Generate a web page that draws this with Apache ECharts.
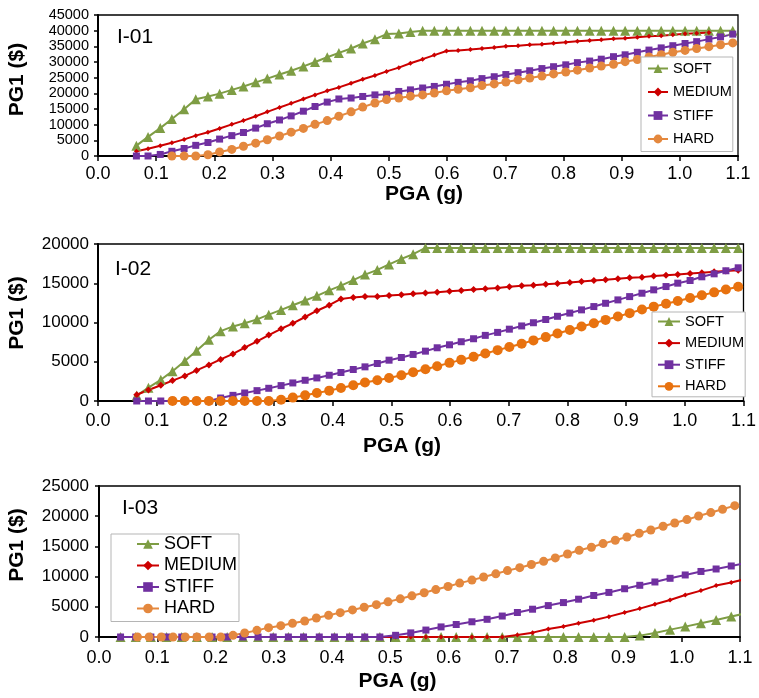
<!DOCTYPE html>
<html>
<head>
<meta charset="utf-8">
<title>PG1 vs PGA</title>
<style>
  html, body { margin: 0; padding: 0; background: #fff; }
  #chart { width: 759px; height: 698px; }
</style>
<script src="https://cdn.jsdelivr.net/npm/echarts@6/dist/echarts.min.js"></script>
</head>
<body>
<div id="chart"></div>
<script>
// PGA (g) sampling used by most curves
const pga = [
  0.066, 0.086, 0.107, 0.127, 0.148, 0.168, 0.189, 0.209, 0.230, 0.250,
  0.271, 0.291, 0.312, 0.332, 0.353, 0.373, 0.394, 0.414, 0.435, 0.455,
  0.476, 0.496, 0.517, 0.537, 0.558, 0.578, 0.599, 0.619, 0.640, 0.660,
  0.681, 0.701, 0.722, 0.742, 0.763, 0.783, 0.804, 0.824, 0.845, 0.865,
  0.886, 0.906, 0.927, 0.947, 0.968, 0.988, 1.009, 1.029, 1.050, 1.070,
  1.091
];
// I-03 soft / medium / stiff use a coarser PGA step
const pgaCoarse = [
  0.037, 0.063, 0.089, 0.116, 0.142, 0.168, 0.194, 0.220, 0.247, 0.273,
  0.299, 0.325, 0.351, 0.378, 0.404, 0.430, 0.456, 0.482, 0.509, 0.535,
  0.561, 0.587, 0.613, 0.640, 0.666, 0.692, 0.718, 0.744, 0.771, 0.797,
  0.823, 0.849, 0.875, 0.902, 0.928, 0.954, 0.980, 1.006, 1.033, 1.059,
  1.085, 1.111
];

const soils = ['SOFT', 'MEDIUM', 'STIFF', 'HARD'];
const panelNames = ['I-01', 'I-02', 'I-03'];
const yMax = [45000, 20000, 25000];

// PG1 ($), I-01
const i01Soft = [
  3300, 6100, 8900, 11800, 14900, 18100, 19000, 19900, 21100, 22200,
  23500, 24700, 26000, 27200, 28600, 30000, 31500, 32900, 34300, 35900,
  37300, 38900, 39100, 39600, 40000, 40000, 40000, 40000, 40000, 40000,
  40000, 40000, 40000, 40000, 40000, 40000, 40000, 40000, 40000, 40000,
  40000, 40000, 40000, 40000, 40000, 40000, 40000, 40000, 40000, 40000,
  40000
];
const i01Medium = [
  1500, 2300, 3300, 4200, 5300, 6500, 7600, 8800, 10100, 11300,
  12700, 14100, 15500, 16800, 18200, 19500, 20800, 21900, 23200, 24500,
  25700, 27000, 28200, 29600, 30900, 32200, 33500, 33700, 34000, 34300,
  34600, 35000, 35200, 35500, 35700, 36000, 36300, 36600, 36900, 37100,
  37400, 37600, 37900, 38200, 38400, 38700, 39000, 39200, 39400, null,
  null
];
const i01Stiff = [
  0, 0, 500, 1500, 2400, 3400, 4300, 5400, 6500, 7500,
  8900, 10300, 11500, 12800, 14300, 15800, 17200, 18200, 18500, 19000,
  19500, 19700, 20600, 21100, 21700, 22200, 22900, 23500, 24000, 24700,
  25300, 26000, 26600, 27200, 27900, 28500, 29100, 29800, 30300, 30900,
  31700, 32300, 33100, 33800, 34500, 35200, 35900, 36500, 37300, 38000,
  38900
];
const i01Hard = [
  null, null, null, 0, 0, 0, 400, 1300, 2100, 3100,
  4100, 5200, 6400, 7600, 8800, 10100, 11300, 12700, 14100, 15600,
  16900, 18000, 18500, 19100, 19500, 20100, 20800, 21300, 21800, 22500,
  23000, 23600, 24300, 24900, 25500, 26200, 26800, 27400, 28100, 28700,
  29300, 30100, 30800, 31600, 32300, 33100, 33700, 34300, 34900, 35500,
  36100
];

// PG1 ($), I-02
const i02Soft = [
  700, 1700, 2700, 3800, 5100, 6400, 7800, 8900, 9500, 9900,
  10400, 11000, 11600, 12200, 12800, 13400, 14100, 14700, 15400, 16100,
  16700, 17400, 18100, 18700, 19500, 19500, 19500, 19500, 19500, 19500,
  19500, 19500, 19500, 19500, 19500, 19500, 19500, 19500, 19500, 19500,
  19500, 19500, 19500, 19500, 19500, 19500, 19500, 19500, 19500, 19500,
  19500
];
const i02Medium = [
  800, 1400, 2000, 2600, 3200, 3900, 4600, 5300, 6000, 6800,
  7600, 8400, 9200, 9900, 10700, 11500, 12200, 13000, 13200, 13300,
  13300, 13430, 13520, 13650, 13770, 13860, 13990, 14070, 14200, 14290,
  14410, 14540, 14670, 14750, 14880, 14970, 15100, 15220, 15350, 15440,
  15570, 15690, 15780, 15910, 16030, 16120, 16250, 16330, 16460, 16550,
  16670
];
const i02Stiff = [
  0, 0, 0, 0, 0, 0, 0, 380, 720, 1020,
  1320, 1620, 1960, 2300, 2640, 2940, 3280, 3630, 4010, 4350,
  4780, 5200, 5540, 5930, 6350, 6780, 7160, 7550, 7930, 8360,
  8740, 9150, 9560, 9970, 10380, 10790, 11200, 11610, 12030, 12450,
  12880, 13300, 13730, 14160, 14580, 15010, 15350, 15820, 16200, 16590,
  16970
];
const i02Hard = [
  null, null, null, 0, 0, 0, 0, 0, 0, 0,
  0, 0, 170, 430, 720, 1020, 1320, 1660, 2000, 2350,
  2640, 2940, 3280, 3670, 4050, 4430, 4860, 5240, 5630, 6060,
  6480, 6870, 7290, 7720, 8140, 8600, 9050, 9480, 9900, 10330,
  10760, 11190, 11650, 12020, 12390, 12750, 13130, 13470, 13840, 14200,
  14560
];

// PG1 ($), I-03 (soft/medium/stiff on pgaCoarse, hard on pga)
const i03Soft = [
  0, 0, 0, 0, 0, 0, 0, 0, 0, 0,
  0, 0, 0, 0, 0, 0, 0, 0, 0, 0,
  0, 0, 0, 0, 0, 0, 0, 0, 0, 0,
  0, 0, 0, 0, 230, 660, 1220, 1720, 2270, 2810,
  3380, 3950
];
const i03Medium = [
  0, 0, 0, 0, 0, 0, 0, 0, 0, 0,
  0, 0, 0, 0, 0, 0, 0, 0, 0, 0,
  0, 0, 0, 0, 0, 0, 320, 720, 1330, 1750,
  2270, 2760, 3370, 4060, 4700, 5410, 6130, 6950, 7680, 8510,
  9010, 9650
];
const i03Stiff = [
  0, 0, 0, 0, 0, 0, 0, 0, 0, 0,
  0, 0, 0, 0, 0, 0, 0, 0, 280, 680,
  1150, 1670, 2070, 2520, 2930, 3470, 4060, 4600, 5200, 5700,
  6260, 6870, 7380, 7990, 8560, 9110, 9720, 10270, 10850, 11260,
  11760, 12260
];
const i03Hard = [
  0, 0, 0, 0, 0, 0, 0, 0, 280, 660,
  1100, 1550, 1880, 2260, 2650, 3150, 3590, 4035, 4480, 4920,
  5350, 5820, 6320, 6820, 7320, 7850, 8370, 8920, 9420, 9940,
  10460, 10990, 11480, 12000, 12530, 13100, 13750, 14350, 14850, 15460,
  16010, 16560, 17170, 17710, 18330, 18870, 19440, 20030, 20600, 21140,
  21750
];

const FONT = '"Liberation Sans", Arial, Helvetica, sans-serif';
const GREEN = '#7e9d44';
const RED = '#cc0000';
const PURPLE = '#7030a0';
const ORANGE = '#e4883e';
const ORANGE2 = '#e8720f';

function pairs(xs, ys) {
  const out = [];
  ys.forEach(function (y, i) {
    if (y !== null) out.push([xs[i], y]);
  });
  return out;
}

const panels = [
  {
    grid: { left: 98, top: 15, width: 640, height: 141 },
    labelMargin: 9, yLabelMargin: 9, yFont: 14.5,
    curves: [[pga, i01Soft], [pga, i01Medium], [pga, i01Stiff], [pga, i01Hard]],
    colors: [GREEN, RED, PURPLE, ORANGE],
    sizes: [10, 5, 7, 9],
    tag: [117, 37], xTitle: [424, 194.5], yTitle: [17, 79.5]
  },
  {
    grid: { left: 98, top: 244, width: 647, height: 157 },
    labelMargin: 11, yLabelMargin: 9, yFont: 17,
    curves: [[pga, i02Soft], [pga, i02Medium], [pga, i02Stiff], [pga, i02Hard]],
    colors: [GREEN, RED, PURPLE, ORANGE2],
    sizes: [10, 7, 7, 10],
    tag: [115, 269.5], xTitle: [402, 445.8], yTitle: [17, 313]
  },
  {
    grid: { left: 99, top: 486, width: 641, height: 151 },
    labelMargin: 12, yLabelMargin: 10, yFont: 17,
    curves: [[pgaCoarse, i03Soft], [pgaCoarse, i03Medium], [pgaCoarse, i03Stiff], [pga, i03Hard]],
    colors: [GREEN, RED, PURPLE, ORANGE],
    sizes: [10, 5, 7, 9],
    tag: [122, 508.5], xTitle: [397.5, 681.7], yTitle: [17, 545]
  }
];

const symbols = ['triangle', 'diamond', 'rect', 'circle'];

const grids = [], xAxes = [], yAxes = [], series = [], graphics = [];

panels.forEach(function (p, pi) {
  grids.push(Object.assign({
    show: true, borderColor: '#000', borderWidth: 1.3, backgroundColor: '#fff'
  }, p.grid));

  xAxes.push({
    gridIndex: pi, type: 'value', min: 0, max: 1.1, interval: 0.1,
    axisLine: { show: true, onZero: false, lineStyle: { color: '#000', width: 2 } },
    axisTick: { show: true, inside: false, length: 5, lineStyle: { color: '#000', width: 1.5 } },
    axisLabel: {
      margin: p.labelMargin, color: '#000', fontSize: 18, fontFamily: FONT,
      hideOverlap: false, showMinLabel: true, showMaxLabel: true,
      formatter: function (v) { return v.toFixed(1); }
    },
    splitLine: { show: false }
  });

  yAxes.push({
    gridIndex: pi, type: 'value', min: 0, max: yMax[pi], interval: 5000,
    axisLine: { show: true, lineStyle: { color: '#000', width: 2 } },
    axisTick: { show: true, inside: false, length: 4, lineStyle: { color: '#000', width: 1.5 } },
    axisLabel: {
      margin: p.yLabelMargin, color: '#000', fontSize: p.yFont, fontFamily: FONT,
      lineHeight: 12, hideOverlap: false, showMinLabel: true, showMaxLabel: true,
      formatter: function (v) { return String(Math.round(v)); }
    },
    splitLine: { show: false }
  });

  p.curves.forEach(function (c, si) {
    series.push({
      name: soils[si],
      type: 'line',
      xAxisIndex: pi,
      yAxisIndex: pi,
      data: pairs(c[0], c[1]),
      symbol: symbols[si],
      symbolSize: p.sizes[si],
      showAllSymbol: true,
      clip: true,
      color: p.colors[si],
      lineStyle: { width: 2, color: p.colors[si] },
      itemStyle: { color: p.colors[si] }
    });
  });

  graphics.push({
    type: 'text', x: p.tag[0], y: p.tag[1],
    style: { text: panelNames[pi], fill: '#000', font: '21px ' + FONT,
      textAlign: 'left', textVerticalAlign: 'middle', align: 'left', verticalAlign: 'middle' }
  });
  graphics.push({
    type: 'text', x: p.xTitle[0], y: p.xTitle[1],
    style: { text: 'PGA (g)', fill: '#000', font: 'bold 21px ' + FONT,
      textAlign: 'center', textVerticalAlign: 'middle', align: 'center', verticalAlign: 'middle' }
  });
  graphics.push({
    type: 'text', x: p.yTitle[0], y: p.yTitle[1], rotation: Math.PI / 2,
    style: { text: 'PG1 ($)', fill: '#000', font: 'bold 21px ' + FONT,
      textAlign: 'center', textVerticalAlign: 'middle', align: 'center', verticalAlign: 'middle' }
  });
});

function legendBox(extra, items) {
  return Object.assign({
    orient: 'vertical',
    backgroundColor: '#fff',
    borderColor: '#b5b5b5',
    borderWidth: 1,
    borderRadius: 0,
    selectedMode: false,
    data: items
  }, extra);
}

const legends = [
  legendBox({
    left: 641, top: 57, padding: [4, 1, 5, 6], itemGap: 8.5,
    itemWidth: 20, itemHeight: 11,
    textStyle: { fontSize: 14.5, color: '#000', fontFamily: FONT }
  }, soils.slice()),
  legendBox({
    left: 652, top: 312, padding: [2, 1, 3, 5], itemGap: 6.6,
    itemWidth: 22, itemHeight: 11,
    textStyle: { fontSize: 14.6, color: '#000', fontFamily: FONT }
  }, soils.map(function (s, i) {
    const c = panels[1].colors[i];
    return { name: s, itemStyle: { color: c }, lineStyle: { color: c } };
  })),
  legendBox({
    left: 111, top: 534, padding: [1, 2, 4, 25], itemGap: 3.5,
    itemWidth: 22, itemHeight: 12,
    textStyle: { fontSize: 18, color: '#000', fontFamily: FONT }
  }, soils.slice())
];

const chart = echarts.init(document.getElementById('chart'), null, { renderer: 'canvas' });
chart.setOption({
  backgroundColor: '#fff',
  animation: false,
  grid: grids,
  xAxis: xAxes,
  yAxis: yAxes,
  legend: legends,
  graphic: graphics,
  series: series
});
</script>
</body>
</html>
